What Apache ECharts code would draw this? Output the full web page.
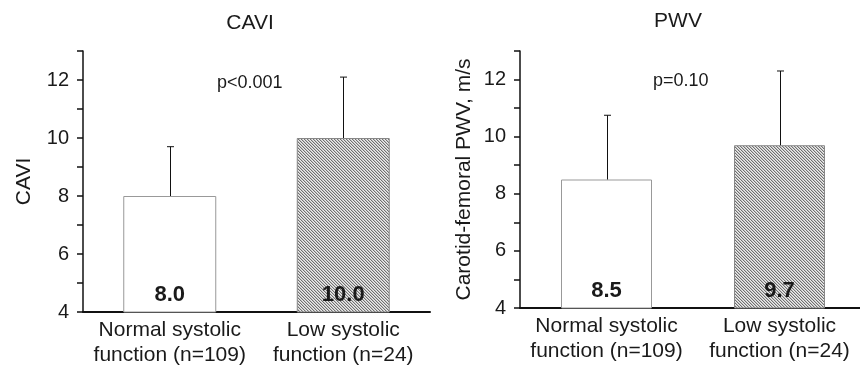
<!DOCTYPE html>
<html>
<head>
<meta charset="utf-8">
<script src="https://cdn.jsdelivr.net/npm/echarts@6/dist/echarts.min.js"></script>
<style>html,body{margin:0;padding:0;background:#fff}#c{width:860px;height:365px}</style>
</head>
<body>
<div id="c"></div>
<script>
var categories = ['Normal systolic\nfunction (n=109)', 'Low systolic\nfunction (n=24)'];
var caviMean = [8.0, 10.0];
var caviUpper = [9.7, 12.1];
var pwvMean = [8.5, 9.7];
var pwvUpper = [10.75, 12.3];
var panelTitles = ['CAVI', 'PWV'];
var yNames = ['CAVI', 'Carotid-femoral PWV, m/s'];
var pLabels = ['p<0.001', 'p=0.10'];
var yTicks = [4, 6, 8, 10, 12];

var FONT = 'Liberation Sans, Arial, sans-serif';
var TXT = '#1a1a1a';

function hatch() {
  var c = document.createElement('canvas');
  c.width = 6; c.height = 6;
  var ctx = c.getContext('2d');
  for (var x = 0; x < 6; x++) {
    for (var y = 0; y < 6; y++) {
      var m = ((x - y) % 3 + 3) % 3;
      ctx.fillStyle = m === 0 ? '#707070' : (m === 1 ? '#c4c4c4' : '#ececec');
      ctx.fillRect(x, y, 1, 1);
    }
  }
  return c;
}
var hatchImg = hatch();

var chart = echarts.init(document.getElementById('c'), null, {renderer: 'canvas'});

function yAxis(idx, nameGap) {
  return {
    type: 'value', gridIndex: idx, min: 4, max: 13, interval: 1,
    name: yNames[idx], nameLocation: 'middle', nameRotate: 90, nameGap: nameGap,
    nameTextStyle: {fontSize: 21, color: TXT, fontFamily: FONT},
    axisLine: {show: true, lineStyle: {color: '#111', width: 1.5}},
    axisTick: {show: true, inside: false, length: 6, lineStyle: {color: '#111', width: 1.5}},
    axisLabel: {
      fontSize: 20, color: TXT, fontFamily: FONT, margin: 14,
      formatter: function (v) { return yTicks.indexOf(v) >= 0 ? String(v) : ''; }
    },
    splitLine: {show: false}
  };
}
function xAxis(idx) {
  return {
    type: 'category', gridIndex: idx, data: categories,
    axisLine: {show: true, lineStyle: {color: '#111', width: 2}},
    axisTick: {show: false},
    axisLabel: {fontSize: 21, color: TXT, fontFamily: FONT, lineHeight: 25, margin: 6, interval: 0}
  };
}
function barSeries(idx, vals, bw) {
  return {
    type: 'bar', xAxisIndex: idx, yAxisIndex: idx, barWidth: bw,
    data: vals.map(function (v, i) {
      return {
        value: v,
        itemStyle: i === 0
          ? {color: '#ffffff', borderColor: '#999', borderWidth: 1}
          : {color: {image: hatchImg, repeat: 'repeat'}, borderColor: '#888', borderWidth: 1}
      };
    }),
    label: {
      show: true, position: 'insideBottom', distance: 7,
      fontSize: 22, fontWeight: 'bold', color: TXT, fontFamily: FONT,
      formatter: function (p) { return p.value.toFixed(1); }
    },
    z: 2
  };
}
function errSeries(idx, vals, up) {
  return {
    type: 'custom', xAxisIndex: idx, yAxisIndex: idx,
    data: vals.map(function (v, i) { return [i, v, up[i]]; }),
    renderItem: function (params, api) {
      var lo = api.coord([api.value(0), api.value(1)]);
      var hi = api.coord([api.value(0), api.value(2)]);
      var x = Math.round(hi[0]) + 0.5;
      return {
        type: 'group',
        children: [
          {type: 'line', shape: {x1: x, y1: lo[1], x2: x, y2: hi[1]}, style: {stroke: '#111', lineWidth: 1}},
          {type: 'line', shape: {x1: x - 3.5, y1: hi[1], x2: x + 3.5, y2: hi[1]}, style: {stroke: '#111', lineWidth: 1}}
        ]
      };
    },
    z: 3
  };
}

var option = {
  animation: false,
  backgroundColor: '#fff',
  title: [
    {text: panelTitles[0], left: 245, top: 8, textAlign: 'center', textStyle: {fontSize: 21, fontWeight: 'normal', color: TXT, fontFamily: FONT}},
    {text: panelTitles[1], left: 673, top: 6, textAlign: 'center', textStyle: {fontSize: 21, fontWeight: 'normal', color: TXT, fontFamily: FONT}}
  ],
  grid: [
    {left: 83, top: 51, width: 347, height: 261, outerBoundsMode: 'none', containLabel: false},
    {left: 520, top: 51, width: 346, height: 257, outerBoundsMode: 'none', containLabel: false}
  ],
  xAxis: [xAxis(0), xAxis(1)],
  yAxis: [yAxis(0, 48), yAxis(1, 45)],
  graphic: [
    {type: 'text', left: 217, top: 74, style: {text: pLabels[0], fontSize: 18, fill: TXT, fontFamily: FONT}},
    {type: 'text', left: 653, top: 72, style: {text: pLabels[1], fontSize: 18, fill: TXT, fontFamily: FONT}}
  ],
  series: [
    barSeries(0, caviMean, 93), errSeries(0, caviMean, caviUpper),
    barSeries(1, pwvMean, 91), errSeries(1, pwvMean, pwvUpper)
  ]
};
chart.setOption(option);
</script>
</body>
</html>
